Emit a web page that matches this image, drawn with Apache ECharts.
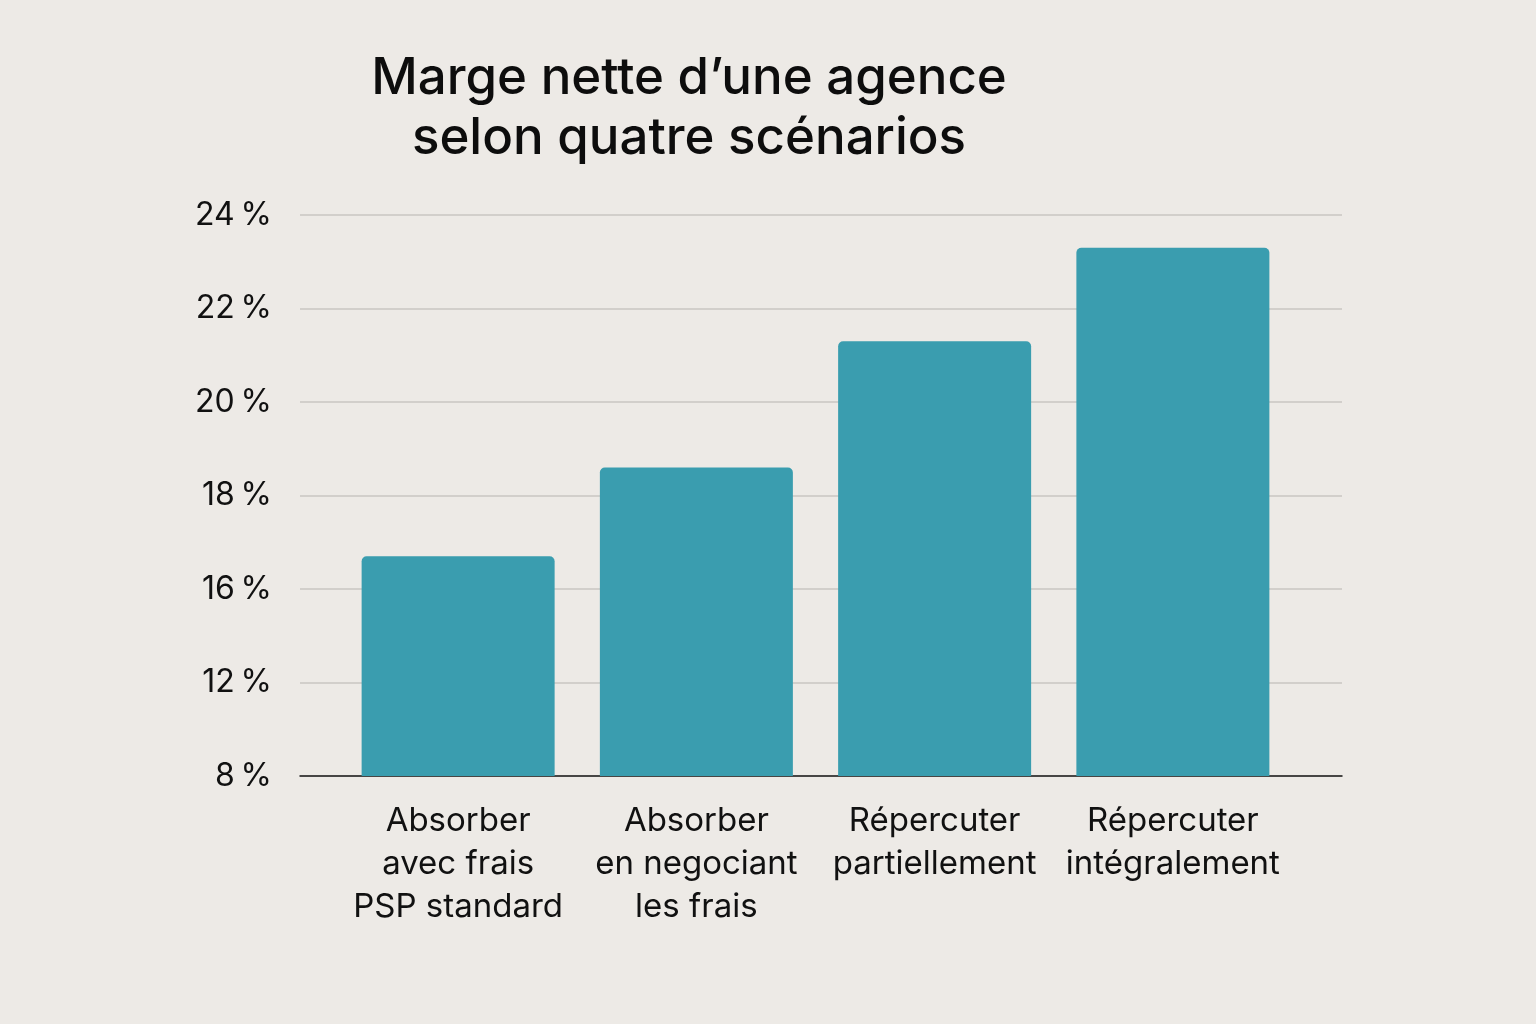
<!DOCTYPE html>
<html>
<head>
<meta charset="utf-8">
<script src="https://cdn.jsdelivr.net/npm/echarts@6/dist/echarts.min.js"></script>
<style>
html, body { margin: 0; padding: 0; background: #edeae6; }
#chart { width: 1536px; height: 1024px; }
</style>
</head>
<body>
<div id="chart"></div>
<script>
const categories = [
    "Absorber\navec frais\nPSP standard",
    "Absorber\nen negociant\nles frais",
    "Répercuter\npartiellement",
    "Répercuter\nintégralement"
];
// net margin in %
const margins = [16.7, 18.6, 21.3, 23.3];
// axis tick labels are evenly spaced but not linear
const tickValues = [8, 12, 16, 18, 20, 22, 24];

// map a percentage onto the evenly spaced tick positions
function toTickPos(v) {
    for (let i = 0; i < tickValues.length - 1; i++) {
        const a = tickValues[i];
        const b = tickValues[i + 1];
        if (v <= b) {
            return i + (v - a) / (b - a);
        }
    }
    return tickValues.length - 1;
}

const chart = echarts.init(document.getElementById("chart"));
const font = "Inter, 'Noto Sans', sans-serif";
const yMax = tickValues.length - 1;

const option = {
    backgroundColor: "#edeae6",
    animation: false,
    textStyle: { fontFamily: font },
    title: {
        text: "Marge nette d\u2019une agence\nselon quatre scénarios",
        left: 684,
        textAlign: "center",
        top: 44,
        textStyle: {
            fontFamily: font,
            fontSize: 51,
            fontWeight: 500,
            color: "#0d0d0d",
            lineHeight: 60
        }
    },
    grid: [
        { left: 300, right: 194, top: 215, bottom: 248 },
        { left: 339, right: 244, top: 215, bottom: 248 }
    ],
    xAxis: [
        {
            gridIndex: 0,
            type: "category",
            data: categories,
            axisLine: { lineStyle: { color: "#1a1a1a", width: 1.5 } },
            axisTick: { show: false },
            axisLabel: { show: false },
            splitLine: { show: false }
        },
        {
            gridIndex: 1,
            type: "category",
            data: categories,
            axisLine: { show: false },
            axisTick: { show: false },
            axisLabel: {
                color: "#111",
                fontFamily: font,
                fontSize: 33,
                lineHeight: 43,
                margin: 24,
                interval: 0
            }
        }
    ],
    yAxis: [
        {
            gridIndex: 0,
            type: "value",
            min: 0,
            max: yMax,
            interval: 1,
            axisLine: { show: false },
            axisTick: { show: false },
            axisLabel: {
                color: "#111",
                fontFamily: font,
                fontSize: 32,
                margin: 28,
                formatter: function (value) {
                    return tickValues[value] + "\u2009%";
                }
            },
            splitLine: { lineStyle: { color: "#c9c6c2", width: 1.5 } }
        },
        {
            gridIndex: 1,
            type: "value",
            min: 0,
            max: yMax,
            interval: 1,
            show: false,
            splitLine: { show: false }
        }
    ],
    series: [
        {
            type: "bar",
            xAxisIndex: 1,
            yAxisIndex: 1,
            data: margins.map(toTickPos),
            barWidth: 193,
            itemStyle: {
                color: "#3a9daf",
                borderRadius: [5, 5, 0, 0]
            },
            z: 1
        }
    ]
};

chart.setOption(option);
</script>
</body>
</html>
